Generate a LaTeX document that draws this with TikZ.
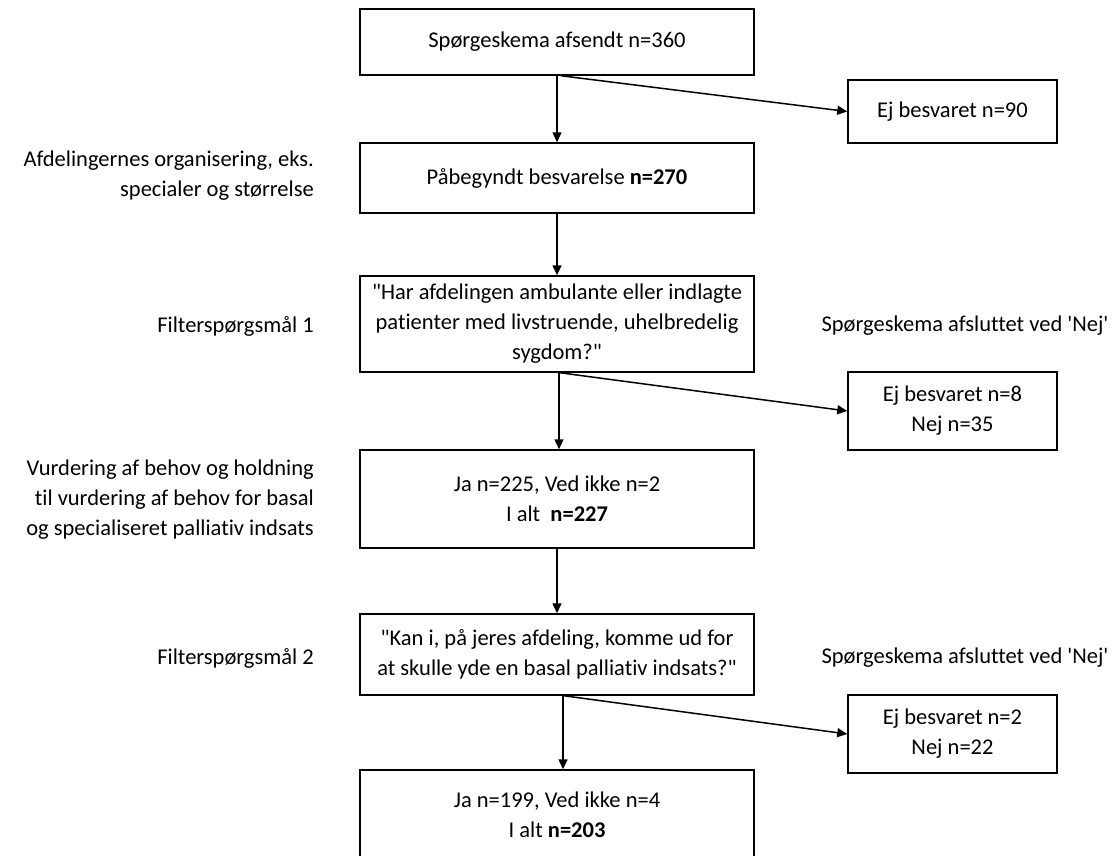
\documentclass[tikz,border=0pt]{standalone}
\usepackage{fontspec}
\setmainfont{Carlito}[Ligatures={TeXOff,CommonOff}]
\usetikzlibrary{arrows.meta}
\begin{document}
\begin{tikzpicture}[x=1pt,y=-1pt,
  every node/.style={font=\fontsize{22.5}{30}\selectfont},
  mainbox/.style={draw=black,line width=1.5pt,minimum width=394pt,align=center,inner sep=0pt},
  sidebox/.style={draw=black,line width=1.5pt,minimum width=209pt,align=center,inner sep=0pt},
  sidelabel/.style={anchor=east,align=right,inner sep=0pt},
  endlabel/.style={anchor=center,align=center,inner sep=0pt},
  conn/.style={line width=1.5pt,-{Triangle[length=10pt,width=9pt]}}]
\clip (0,0) rectangle (1119,855);
\fill[white] (0,0) rectangle (1119,855);

\node[mainbox,minimum height=66pt] (b1) at (557,42) {Spørgeskema afsendt n=360};
\node[sidebox,minimum height=63pt] (e1) at (952.5,111.5) {Ej besvaret n=90};
\node[mainbox,minimum height=70pt] (b2) at (557,178) {Påbegyndt besvarelse \textbf{n=270}};
\node[mainbox,minimum height=96pt] (b3) at (557,324) {"Har afdelingen ambulante eller indlagte\\patienter med livstruende, uhelbredelig\\sygdom?"};
\node[sidebox,minimum height=78pt] (e2) at (952.5,411) {Ej besvaret n=8\\Nej n=35};
\node[mainbox,minimum height=98pt] (b4) at (557,499) {Ja n=225, Ved ikke n=2\\I alt\ \ \textbf{n=227}};
\node[mainbox,minimum height=81pt] (b5) at (557,654.5) {"Kan i, på jeres afdeling, komme ud for\\at skulle yde en basal palliativ indsats?"};
\node[sidebox,minimum height=78pt] (e3) at (952.5,734) {Ej besvaret n=2\\Nej n=22};
\node[mainbox,minimum height=90pt] (b6) at (557,815) {Ja n=199, Ved ikke n=4\\I alt \textbf{n=203}};

\node[sidelabel] (l1) at (314,176) {Afdelingernes organisering, eks.\\specialer og størrelse};
\node[sidelabel] (l2) at (314,326) {Filterspørgsmål 1};
\node[sidelabel] (l3) at (314,500) {Vurdering af behov og holdning\\til vurdering af behov for basal\\og specialiseret palliativ indsats};
\node[sidelabel] (l4) at (314,658) {Filterspørgsmål 2};
\node[endlabel] (r1) at (965,326) {Spørgeskema afsluttet ved 'Nej'};
\node[endlabel] (r2) at (965,658) {Spørgeskema afsluttet ved 'Nej'};

\draw[conn] (b1.south) -- (b2.north);
\draw[conn] ([xshift=4pt]b1.south) -- (e1.west);
\draw[conn] (b2.south) -- (b3.north);
\draw[conn] ([xshift=2pt]b3.south) -- ([xshift=2pt]b4.north);
\draw[conn] ([xshift=3pt]b3.south) -- (e2.west);
\draw[conn] (b4.south) -- (b5.north);
\draw[conn] ([xshift=6pt]b5.south) -- ([xshift=6pt]b6.north);
\draw[conn] ([xshift=7pt]b5.south) -- (e3.west);
\end{tikzpicture}
\end{document}
